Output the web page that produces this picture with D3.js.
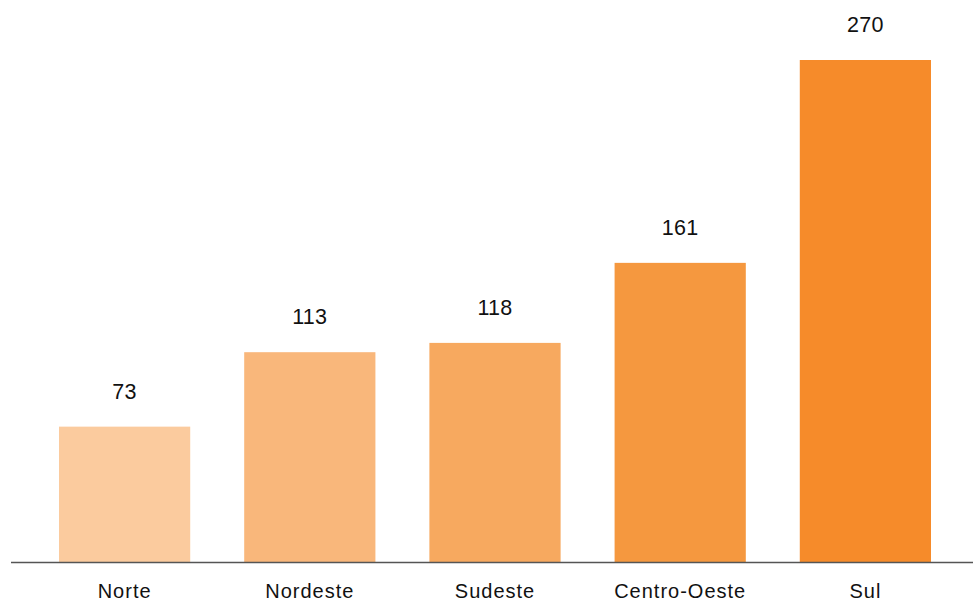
<!DOCTYPE html>
<html>
<head>
<meta charset="utf-8">
<script src="https://cdn.jsdelivr.net/npm/d3@7"></script>
<style>
  body { margin: 0; background: #fff; }
  text { font-family: "Liberation Sans", Arial, sans-serif; fill: #111; }
</style>
</head>
<body>
<svg id="chart"></svg>
<script>
var width = 973,
    height = 603;

var regions = ["Norte", "Nordeste", "Sudeste", "Centro-Oeste", "Sul"];
var values = [73, 113, 118, 161, 270];
var colors = ["#fbcb9e", "#f9b77b", "#f7a95f", "#f5983f", "#f68b2a"];

var svg = d3.select("#chart")
    .attr("width", width)
    .attr("height", height);

var x = d3.scaleBand()
    .domain(regions)
    .range([14, 976])
    .paddingInner(0.2915)
    .paddingOuter(0.243);

var y = d3.scaleLinear()
    .domain([0, 270])
    .range([562.5, 60]);

var data = regions.map(function(r, i) { return {name: r, value: values[i], color: colors[i]}; });

svg.selectAll("rect.bar")
    .data(data).enter()
    .append("rect")
    .attr("class", "bar")
    .attr("x", function(d) { return x(d.name); })
    .attr("y", function(d) { return y(d.value); })
    .attr("width", x.bandwidth())
    .attr("height", function(d) { return y(0) - y(d.value); })
    .attr("fill", function(d) { return d.color; });

// value labels
svg.selectAll("text.val")
    .data(data).enter()
    .append("text")
    .attr("class", "val")
    .attr("x", function(d) { return x(d.name) + x.bandwidth() / 2; })
    .attr("y", function(d) { return y(d.value) - 28; })
    .attr("text-anchor", "middle")
    .style("font-size", "21.5px")
    .style("letter-spacing", "0.3px")
    .text(function(d) { return d.value; });

// baseline axis
var axis = svg.append("g")
    .attr("transform", "translate(0," + y(0) + ")")
    .call(d3.axisBottom(x).tickSize(0).tickPadding(21));

axis.select(".domain")
    .attr("d", "M11,0H973")
    .attr("stroke", "#555")
    .attr("stroke-width", 1.5);

axis.selectAll("text")
    .style("font-size", "20px")
    .style("letter-spacing", "1px")
    .style("font-family", "'Liberation Sans', Arial, sans-serif")
    .attr("fill", "#111");
</script>
</body>
</html>
